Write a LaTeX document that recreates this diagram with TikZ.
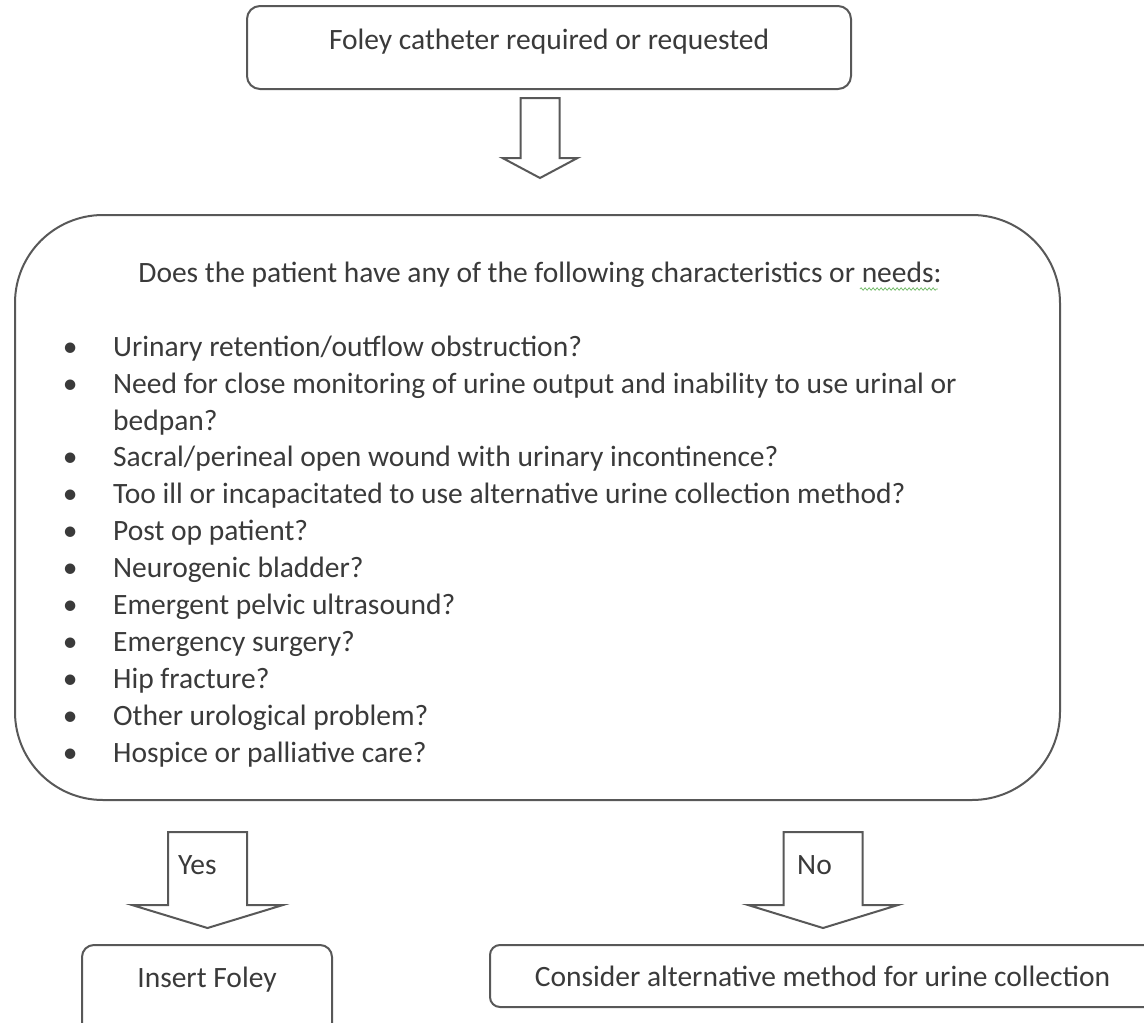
\documentclass[tikz,border=0pt]{standalone}
\usepackage{fontspec}
\setmainfont{Carlito}
\usetikzlibrary{calc,decorations.pathmorphing}

\definecolor{edge}{RGB}{88,88,88}
\definecolor{ink}{RGB}{58,58,58}
\definecolor{spell}{RGB}{120,190,110}

\tikzset{
  % hollow block arrow pointing down: shaft half-width, head half-width,
  % shaft length, total length
  pics/downarrow/.style n args={4}{code={
    \draw[blockarrow] (-#1,0) -- (#1,0) -- (#1,#3) -- (#2,#3) -- (0,#4)
      -- (-#2,#3) -- (-#1,#3) -- cycle;
  }},
}

\begin{document}
\begin{tikzpicture}[x=1pt,y=-1pt,
  every node/.style={font=\fontsize{29.5}{36.9}\selectfont, text=ink, inner sep=0pt},
  box/.style={draw=edge, line width=2pt, fill=white},
  blockarrow/.style={draw=edge, line width=2pt, fill=white, line join=miter},
]
\useasboundingbox (0,0) rectangle (1144,1023);
\clip (0,0) rectangle (1144,1023);

% start of the decision
\node[box, rounded corners=13pt, minimum width=604pt, minimum height=83pt,
      text height=21pt, text depth=18pt] (request) at (549,47.5)
  {Foley catheter required or requested};

\pic at (540,98) {downarrow={19.5}{37.5}{60}{80}};

% screening questions
\node[box, rounded corners=88pt, minimum width=1045pt, minimum height=585pt]
  (criteria) at (537.5,507.5) {};

\node[anchor=base] (question) at (540,282)
  {Does the patient have any of the following characteristics or needs:};
\draw[spell, line width=0.8pt, decorate,
      decoration={snake, amplitude=1.2pt, segment length=4pt}]
  ($(question.base east)+(-82,7)$) -- ($(question.base east)+(-4,7)$);

\node[anchor=north west, align=left] (needs) at (27,330.2) {%
  \begin{tabular}{@{}l@{}l@{}}
  \makebox[86pt]{\textbullet} & Urinary retention/outflow obstruction?\\
  \makebox[86pt]{\textbullet} & Need for close monitoring of urine output and inability to use urinal or\\
   & bedpan?\\
  \makebox[86pt]{\textbullet} & Sacral/perineal open wound with urinary incontinence?\\
  \makebox[86pt]{\textbullet} & Too ill or incapacitated to use alternative urine collection method?\\
  \makebox[86pt]{\textbullet} & Post op patient?\\
  \makebox[86pt]{\textbullet} & Neurogenic bladder?\\
  \makebox[86pt]{\textbullet} & Emergent pelvic ultrasound?\\
  \makebox[86pt]{\textbullet} & Emergency surgery?\\
  \makebox[86pt]{\textbullet} & Hip fracture?\\
  \makebox[86pt]{\textbullet} & Other urological problem?\\
  \makebox[86pt]{\textbullet} & Hospice or palliative care?
  \end{tabular}};

% outcomes
\pic at (207.5,832) {downarrow={39.5}{75.5}{73}{96}};
\node[anchor=west] (yes) at (178,865) {Yes};

\pic at (823,832) {downarrow={39.5}{75}{73}{96}};
\node[anchor=west] (no) at (797,865) {No};

\node[box, rounded corners=12pt, minimum width=250pt, minimum height=90pt,
      text height=21pt, text depth=27pt] (insert) at (207,990) {Insert Foley};

\node[box, rounded corners=10pt, minimum width=665pt, minimum height=62pt,
      text height=21pt, text depth=1pt] (alternative) at (822.5,976)
  {Consider alternative method for urine collection};
\end{tikzpicture}
\end{document}
